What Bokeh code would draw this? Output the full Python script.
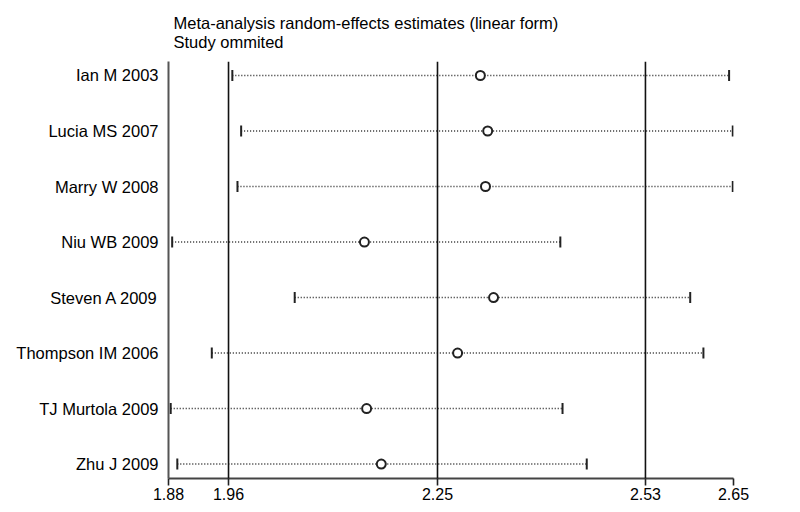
from bokeh.plotting import figure
from bokeh.models import Range1d, FixedTicker, Span
from bokeh.embed import file_html
from bokeh.resources import INLINE
import math

studies = ["Ian M 2003", "Lucia MS 2007", "Marry W 2008", "Niu WB 2009",
           "Steven A 2009", "Thompson IM 2006", "TJ Murtola 2009", "Zhu J 2009"]
estimate = [2.305, 2.315, 2.312, 2.147, 2.323, 2.274, 2.150, 2.170]
lower = [1.967, 1.979, 1.974, 1.885, 2.052, 1.939, 1.883, 1.892]
upper = [2.644, 2.649, 2.649, 2.414, 2.591, 2.609, 2.417, 2.450]

overall = 2.2466
overall_low = 1.9618
overall_high = 2.5300
axis_min = 1.88
axis_max = 2.65
tick_values = [axis_min, overall_low, overall, overall_high, axis_max]
tick_labels = ["1.88", "1.96", "2.25", "2.53", "2.65"]

rows = list(range(1, len(studies) + 1))
FONT = "Liberation Sans"

p = figure(width=784, height=504, output_backend="svg", toolbar_location=None,
           x_range=Range1d(axis_min, axis_max), y_range=Range1d(8.26, 0.748),
           min_border_left=168, min_border_right=51, min_border_top=61, min_border_bottom=26)
p.outline_line_color = None
p.grid.visible = False
p.background_fill_color = "white"
p.border_fill_color = "white"

p.title.text = "Meta-analysis random-effects estimates (linear form)\nStudy ommited"
p.title.text_font = FONT
p.title.text_font_size = "16.5px"
p.title.text_font_style = "normal"
p.title.text_color = "#000000"
p.title.align = "left"
p.title.offset = 5
p.title.standoff = 21
p.title.text_line_height = 1.08

for v in [overall_low, overall, overall_high]:
    p.add_layout(Span(location=v, dimension="height", line_color="#111111", line_width=1.6))

p.segment(x0=lower, y0=rows, x1=upper, y1=rows, line_color="#222222",
          line_width=1.5, line_dash="1 2")
p.scatter(x=lower, y=rows, marker="dash", angle=math.pi / 2, size=11,
          line_color="#222222", line_width=2)
p.scatter(x=upper, y=rows, marker="dash", angle=math.pi / 2, size=11,
          line_color="#222222", line_width=2)
p.scatter(x=estimate, y=rows, marker="circle", size=9, fill_color="white",
          line_color="#222222", line_width=2)

xa = p.xaxis[0]
xa.ticker = FixedTicker(ticks=tick_values)
xa.major_label_overrides = {t: l for t, l in zip(tick_values, tick_labels)}
xa.minor_tick_line_color = None
xa.major_tick_in = 0
xa.major_tick_out = 7
xa.major_tick_line_color = "#222222"
xa.major_tick_line_width = 1.6
xa.axis_line_color = "#444444"
xa.axis_line_width = 2
xa.major_label_standoff = 2
xa.major_label_text_font = FONT
xa.major_label_text_font_size = "16px"
xa.major_label_text_color = "#000000"

ya = p.yaxis[0]
ya.ticker = FixedTicker(ticks=rows)
ya.major_label_overrides = {r: s for r, s in zip(rows, studies)}
ya.minor_tick_line_color = None
ya.major_tick_line_color = None
ya.major_tick_in = 0
ya.major_tick_out = 0
ya.axis_line_color = "#555555"
ya.axis_line_width = 2
ya.major_label_standoff = 10
ya.major_label_text_font = FONT
ya.major_label_text_font_size = "16.5px"
ya.major_label_text_color = "#000000"

open("out.html", "w").write(file_html(p, INLINE))
